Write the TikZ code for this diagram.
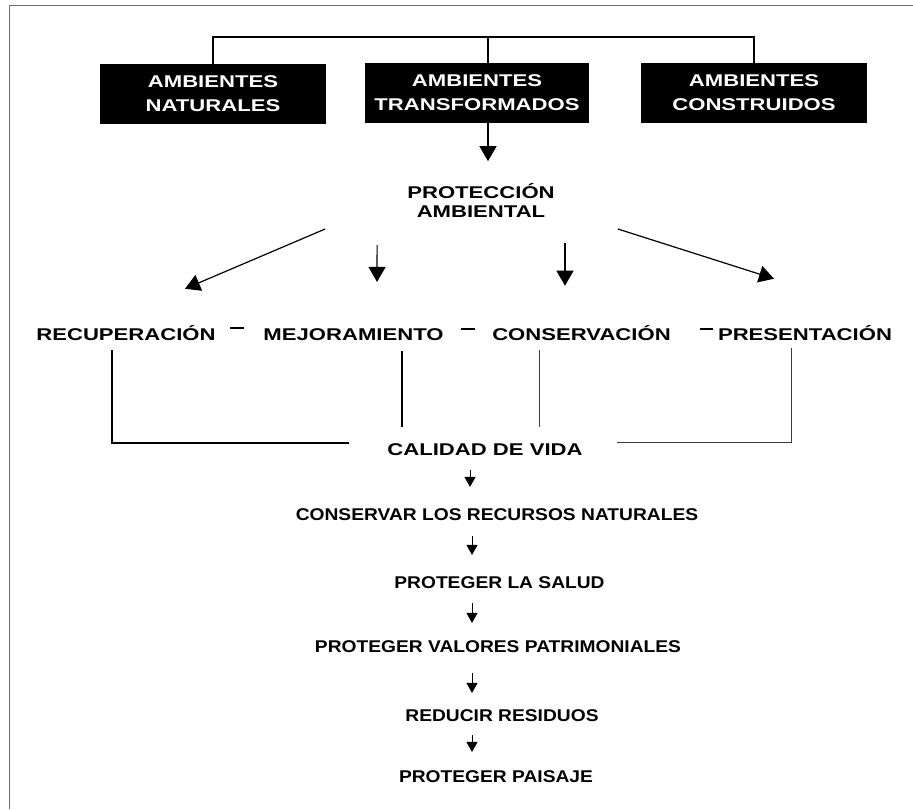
\documentclass[tikz,border=0pt]{standalone}
\usepackage{fontspec}
\usepackage{tikz}
\usetikzlibrary{arrows.meta, positioning, calc}
\newfontfamily\widefont[FakeStretch=1.3]{Liberation Sans}
\newfontfamily\midfont[FakeStretch=1.13]{Liberation Sans}
\definecolor{framegray}{HTML}{6E6E6E}
\definecolor{linegray}{HTML}{3A3A3A}
\tikzstyle{envbox} = [rectangle, fill=black, text=white, minimum width=226pt, minimum height=60pt, inner sep=0pt, align=center, font=\widefont\bfseries\fontsize{17}{24}\selectfont]
\tikzstyle{headlabel} = [inner sep=0pt, align=center, font=\widefont\bfseries\fontsize{17}{19}\selectfont]
\tikzstyle{rowlabel} = [inner sep=0pt, anchor=base, font=\widefont\bfseries\fontsize{17}{20}\selectfont]
\tikzstyle{goallabel} = [inner sep=0pt, anchor=base, font=\midfont\bfseries\fontsize{17}{20}\selectfont]
\tikzstyle{bigarrow} = [line width=1.2pt, -{Triangle[length=15pt,width=17pt]}]
\tikzstyle{smallarrow} = [line width=1pt, -{Triangle[length=10pt,width=11pt]}]
\tikzstyle{thickline} = [line width=1.6pt]
\tikzstyle{thinline} = [line width=0.9pt, color=linegray]
\tikzstyle{dashline} = [line width=1.3pt]

\begin{document}
\begin{tikzpicture}[x=1pt, y=-1pt]
    \useasboundingbox (0,0) rectangle (913,809);
    \draw[framegray, line width=1pt] (9,809) -- (9,5) -- (913,5);

    % Ambientes
    \node[envbox] (natural) at (213,94) {AMBIENTES\\NATURALES};
    \node[envbox, minimum width=224pt] (transf) at (477,93) {AMBIENTES\\TRANSFORMADOS};
    \node[envbox] (constr) at (754,93) {AMBIENTES\\CONSTRUIDOS};
    \coordinate (junction) at (488,37);

    \draw[line width=1.2pt] (natural.north) |- (junction) -| (constr.north);
    \draw[line width=1.2pt] (junction) -- (transf.north -| junction);

    % Proteccion
    \node[headlabel] (prot) at (481,200) {PROTECCIÓN\\AMBIENTAL};
    \draw[bigarrow] (transf.south -| junction) -- ++(0,38);

    % Acciones
    \node[rowlabel] (recup) at (126,340) {RECUPERACIÓN};
    \node[rowlabel] (mejor) at (353.5,340) {MEJORAMIENTO};
    \node[rowlabel] (conserv) at (581.5,340) {CONSERVACIÓN};
    \node[rowlabel] (present) at (805,340) {PRESENTACIÓN};

    \draw[bigarrow] ([shift={(-82,29)}]prot.west) -- ([shift={(59,-36)}]recup.north);
    \draw[bigarrow] ([shift={(-30,28)}]prot.south west) -- ([shift={(23.5,-46)}]mejor.north);
    \draw[bigarrow] ([shift={(84,26)}]prot.south) -- ([shift={(-16.5,-39)}]conserv.north);
    \draw[bigarrow] ([shift={(63,29)}]prot.east) -- ([shift={(-31,-46)}]present.north);

    \draw[dashline] ([shift={(14,-12)}]recup.base east) -- ([shift={(-19,-12)}]mejor.base west);
    \draw[dashline] ([shift={(17,-11)}]mejor.base east) -- ([shift={(-17,-11)}]conserv.base west);
    \draw[dashline] ([shift={(29,-11)}]conserv.base east) -- ([shift={(-5,-11)}]present.base west);

    % Calidad de vida
    \node[rowlabel] (calidad) at (485,455) {CALIDAD DE VIDA};

    \draw[thickline] ([shift={(-14,10)}]recup.south) |- ([shift={(-38,-6)}]calidad.west);
    \draw[thickline] ([shift={(48.5,11)}]mejor.south) -- ([shift={(-83,-16)}]calidad.north);
    \draw[thinline] ([shift={(-42.5,10)}]conserv.south) -- ([shift={(54,-16)}]calidad.north);
    \draw[thinline] ([shift={(-14,8)}]present.south) |- ([shift={(34,-7)}]calidad.east);

    % Objetivos
    \node[goallabel] (recursos) at (497,520) {CONSERVAR LOS RECURSOS NATURALES};
    \node[goallabel] (salud) at (499.5,588) {PROTEGER LA SALUD};
    \node[goallabel] (valores) at (498,652) {PROTEGER VALORES PATRIMONIALES};
    \node[goallabel] (residuos) at (502,721) {REDUCIR RESIDUOS};
    \node[goallabel] (paisaje) at (496,782) {PROTEGER PAISAJE};

    \draw[smallarrow] ([shift={(-15,15)}]calidad.south) -- ([shift={(-27,-21)}]recursos.north);
    \draw[smallarrow] ([shift={(-25,16)}]recursos.south) -- ([shift={(-27.5,-21)}]salud.north);
    \draw[smallarrow] ([shift={(-27.5,15)}]salud.south) -- ([shift={(-26,-17)}]valores.north);
    \draw[smallarrow] ([shift={(-26,21)}]valores.south) -- ([shift={(-30,-16)}]residuos.north);
    \draw[smallarrow] ([shift={(-30,14)}]residuos.south) -- ([shift={(-24,-18)}]paisaje.north);
\end{tikzpicture}
\end{document}
